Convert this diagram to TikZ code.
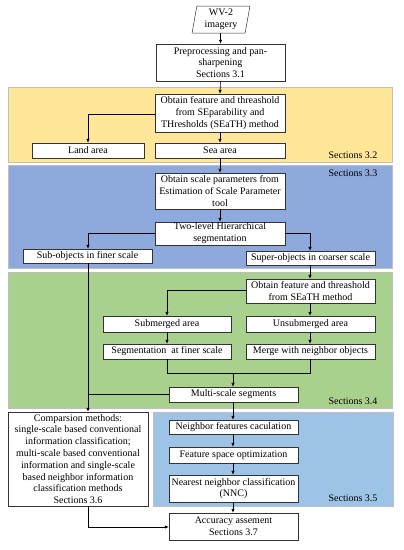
\documentclass[tikz,border=0pt]{standalone}
\usepackage{fontspec}
\setmainfont{Liberation Serif}
\usetikzlibrary{shapes.geometric,arrows.meta}
\definecolor{bandY}{HTML}{FFE699}
\definecolor{bandB}{HTML}{8EA9DB}
\definecolor{bandG}{HTML}{A9D18E}
\definecolor{bandL}{HTML}{9DC3E6}
\tikzset{
  band/.style={draw=black!25, line width=0.6pt},
  box/.style={draw=black!80, fill=white, line width=0.5pt, align=center, inner sep=0pt,
     font=\fontsize{10}{11.8}\selectfont},
  lbl/.style={font=\fontsize{10}{12}\selectfont, anchor=east},
  arr/.style={-{Latex[length=4pt,width=3.5pt]}, line width=0.6pt},
  ln/.style={line width=0.6pt}
}
\newcommand{\bx}[6]{% name, x1, y1, x2, y2, text
  \node[box, minimum width=#4pt-#2pt, minimum height=#5pt-#3pt] (#1) at ({(#2+#4)/2},{(#3+#5)/2}) {#6};}
\begin{document}
\begin{tikzpicture}[x=1pt,y=-1pt]
\useasboundingbox (0,0) rectangle (404,550);
% bands
\fill[bandY] (8,87) rectangle (392,162); \draw[band] (8,87) rectangle (392,162);
\fill[bandB] (8,165) rectangle (392,268); \draw[band] (8,165) rectangle (392,268);
\fill[bandG] (8,272) rectangle (392,408); \draw[band] (8,272) rectangle (392,408);
\fill[bandL] (153,412) rectangle (393,506); \draw[band] (153,412) rectangle (393,506);
\node[lbl] (s32) at (381,155) {Sections 3.2};
\node[lbl] (s33) at (381,173) {Sections 3.3};
\node[lbl] (s34) at (381,401) {Sections 3.4};
\node[lbl] (s35) at (381,498) {Sections 3.5};
% input
\node[trapezium, trapezium left angle=81, trapezium right angle=99, draw=black!80, fill=white,
  line width=0.5pt, minimum width=58pt, minimum height=27pt, inner sep=0pt, align=center,
  font=\fontsize{10}{11.8}\selectfont, trapezium stretches=true] (wv) at (221,19.5) {WV-2\\imagery};
\bx{pre}{156}{44}{285}{81}{Preprocessing and pan-\\sharpening\\Sections 3.1}
\bx{seath}{155}{94}{285}{132}{Obtain feature and threashold\\from SEparability and\\THresholds (SEaTH) method}
\bx{land}{32}{143}{144}{158}{Land area}
\bx{sea}{155}{143}{285}{158}{Sea area}
\bx{esp}{155}{173}{285}{209}{Obtain scale parameters from\\Estimation of Scale Parameter\\tool}
\bx{two}{155}{222}{285}{245}{Two-level Hierarchical\\segmentation}
\bx{sub}{23}{249}{152}{263}{Sub-objects in finer scale}
\bx{sup}{246}{251}{375}{265}{Super-objects in coarser scale}
\bx{seath2}{246}{279}{375}{303}{Obtain feature and threashold\\from SEaTH method}
\bx{subm}{103}{316}{231}{332}{Submerged area}
\bx{unsub}{246}{316}{375}{332}{Unsubmerged area}
\bx{segf}{103}{344}{231}{359}{Segmentation\ \ at finer scale}
\bx{merge}{246}{344}{375}{359}{Merge with neighbor objects}
\bx{multi}{169}{387}{298}{402}{Multi-scale segments}
\bx{comp}{8}{412}{148}{506}{Comparsion methods:\\single-scale based conventional\\information classification;\\multi-scale based conventional\\information and single-scale\\based neighbor information\\classification methods\\Sections 3.6}
\bx{nfc}{169}{420}{298}{434}{Neighbor features caculation}
\bx{fso}{169}{447}{298}{463}{Feature space optimization}
\bx{nnc}{169}{475}{298}{502}{Nearest neighbor classification\\(NNC)}
\bx{acc}{169}{513}{298}{540}{Accuracy assement\\Sections 3.7}
% connectors
\draw[arr] (wv.south -| pre.north) -- (pre.north);
\draw[arr] (pre.south) -- (seath.north);
\draw[arr] (seath.west |- 0,114) -| (land.north);
\draw[arr] (seath.south) -- (sea.north);
\draw[arr] (sea.south) -- (esp.north);
\draw[arr] (esp.south) -- (two.north);
\draw[arr] (two.west |- 0,233) -| (sub.north -| 88,0);
\draw[arr] (two.east |- 0,233) -| (sup.north -| 310,0);
\draw[arr] (sup.south -| 310,0) -- (seath2.north -| 310,0);
\draw[arr] (seath2.west |- 0,290) -| (subm.north);
\draw[arr] (seath2.south -| 310,0) -- (unsub.north -| 310,0);
\draw[arr] (subm.south) -- (segf.north);
\draw[arr] (unsub.south -| 310,0) -- (merge.north -| 310,0);
\coordinate (j) at (233,373);
\draw[ln] (segf.south) |- (j);
\draw[ln] (merge.south -| 310,0) |- (j);
\draw[arr] (j) -- (multi.north -| j);
\draw[arr] (sub.south -| 88,0) -- (comp.north -| 88,0);
\draw[ln] (multi.west) -- (multi.west -| 88,0);
\draw[arr] (multi.south -| 233,0) -- (nfc.north -| 233,0);
\draw[arr] (nfc.south -| 233,0) -- (fso.north -| 233,0);
\draw[arr] (fso.south -| 233,0) -- (nnc.north -| 233,0);
\draw[arr] (nnc.south -| 233,0) -- (acc.north -| 233,0);
\draw[arr] (comp.south -| 88,0) |- (acc.west |- 0,527);
\end{tikzpicture}
\end{document}
